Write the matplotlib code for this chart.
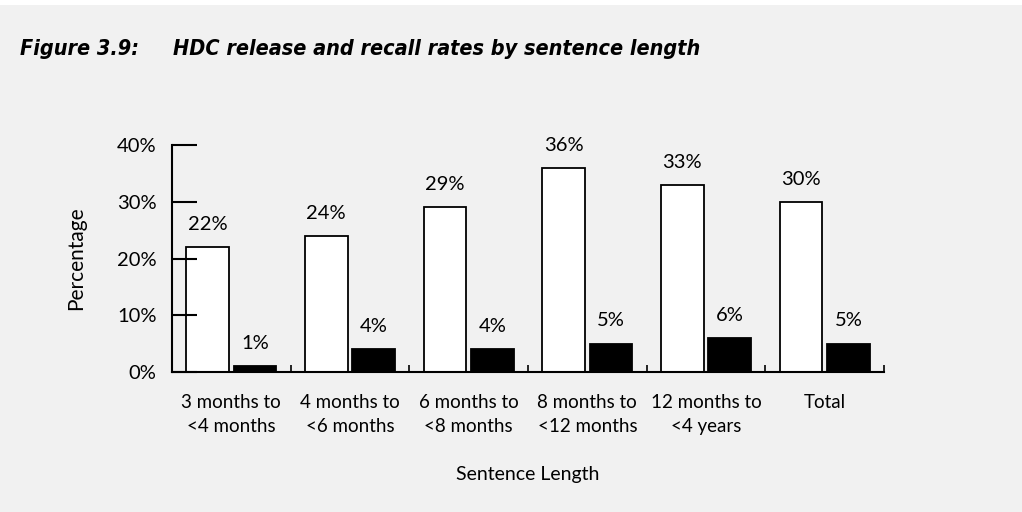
import matplotlib
matplotlib.use('Agg')
import matplotlib.pyplot as plt
import numpy as np

categories = ['3 months to\n<4 months', '4 months to\n<6 months', '6 months to\n<8 months',
              '8 months to\n<12 months', '12 months to\n<4 years', 'Total']
release = [22, 24, 29, 36, 33, 30]
recall = [1, 4, 4, 5, 6, 5]

bg = '#f1f1f1'
plt.rcParams['font.family'] = ['Lato', 'DejaVu Sans']
title_font = dict(fontsize=15.5, fontweight='bold', fontstyle='italic',
                  family=['DejaVu Sans'], fontstretch='condensed', va='center', ha='left')

fig = plt.figure(figsize=(10.22, 5.12), dpi=100)
fig.patch.set_facecolor('white')
fig.patches.append(plt.Rectangle((0, 0), 1, 1 - 5 / 512, transform=fig.transFigure,
                                 facecolor=bg, edgecolor='none', zorder=-10))

fig.text(20 / 1022, 1 - 49 / 512, 'Figure 3.9:', **title_font)
fig.text(173 / 1022, 1 - 49 / 512, 'HDC release and recall rates by sentence length', **title_font)

ax = fig.add_axes([172 / 1022, 140 / 512, 712 / 1022, 227 / 512])
ax.set_facecolor('none')

x = np.arange(len(categories)) + 0.5
w = 0.36
ax.bar(x - 0.2, release, w, color='white', edgecolor='black', linewidth=1.3)
ax.bar(x + 0.2, recall, w, color='black', edgecolor='black', linewidth=1.3)

for xi, v in zip(x - 0.2, release):
    ax.text(xi, v + 2.5, f'{v}%', ha='center', va='bottom', fontsize=14.5)
for xi, v in zip(x + 0.2, recall):
    ax.text(xi, v + 2.5, f'{v}%', ha='center', va='bottom', fontsize=14.5)

ax.set_xlim(0, len(categories))
ax.set_ylim(0, 40)
ax.set_yticks(range(0, 41, 10))
ax.set_yticklabels([f'{t}%' for t in range(0, 41, 10)], fontsize=14.5)
ax.set_xticks(np.arange(1, len(categories) + 1))
ax.set_xticklabels([])
ax.set_xticks(x, minor=True)
ax.set_xticklabels(categories, minor=True, fontsize=13.5, linespacing=1.45)
ax.tick_params(axis='x', which='minor', length=0, pad=16)
ax.tick_params(axis='x', which='major', direction='in', length=5, width=1.2)
ax.tick_params(axis='y', direction='in', length=18, width=1.5, pad=11)

for s in ['top', 'right']:
    ax.spines[s].set_visible(False)
for s in ['left', 'bottom']:
    ax.spines[s].set_linewidth(1.5)

ax.set_ylabel('Percentage', fontsize=15, labelpad=22)
ax.set_xlabel('Sentence Length', fontsize=14, labelpad=23)

fig.savefig('out.png', dpi=100, facecolor=fig.get_facecolor())
